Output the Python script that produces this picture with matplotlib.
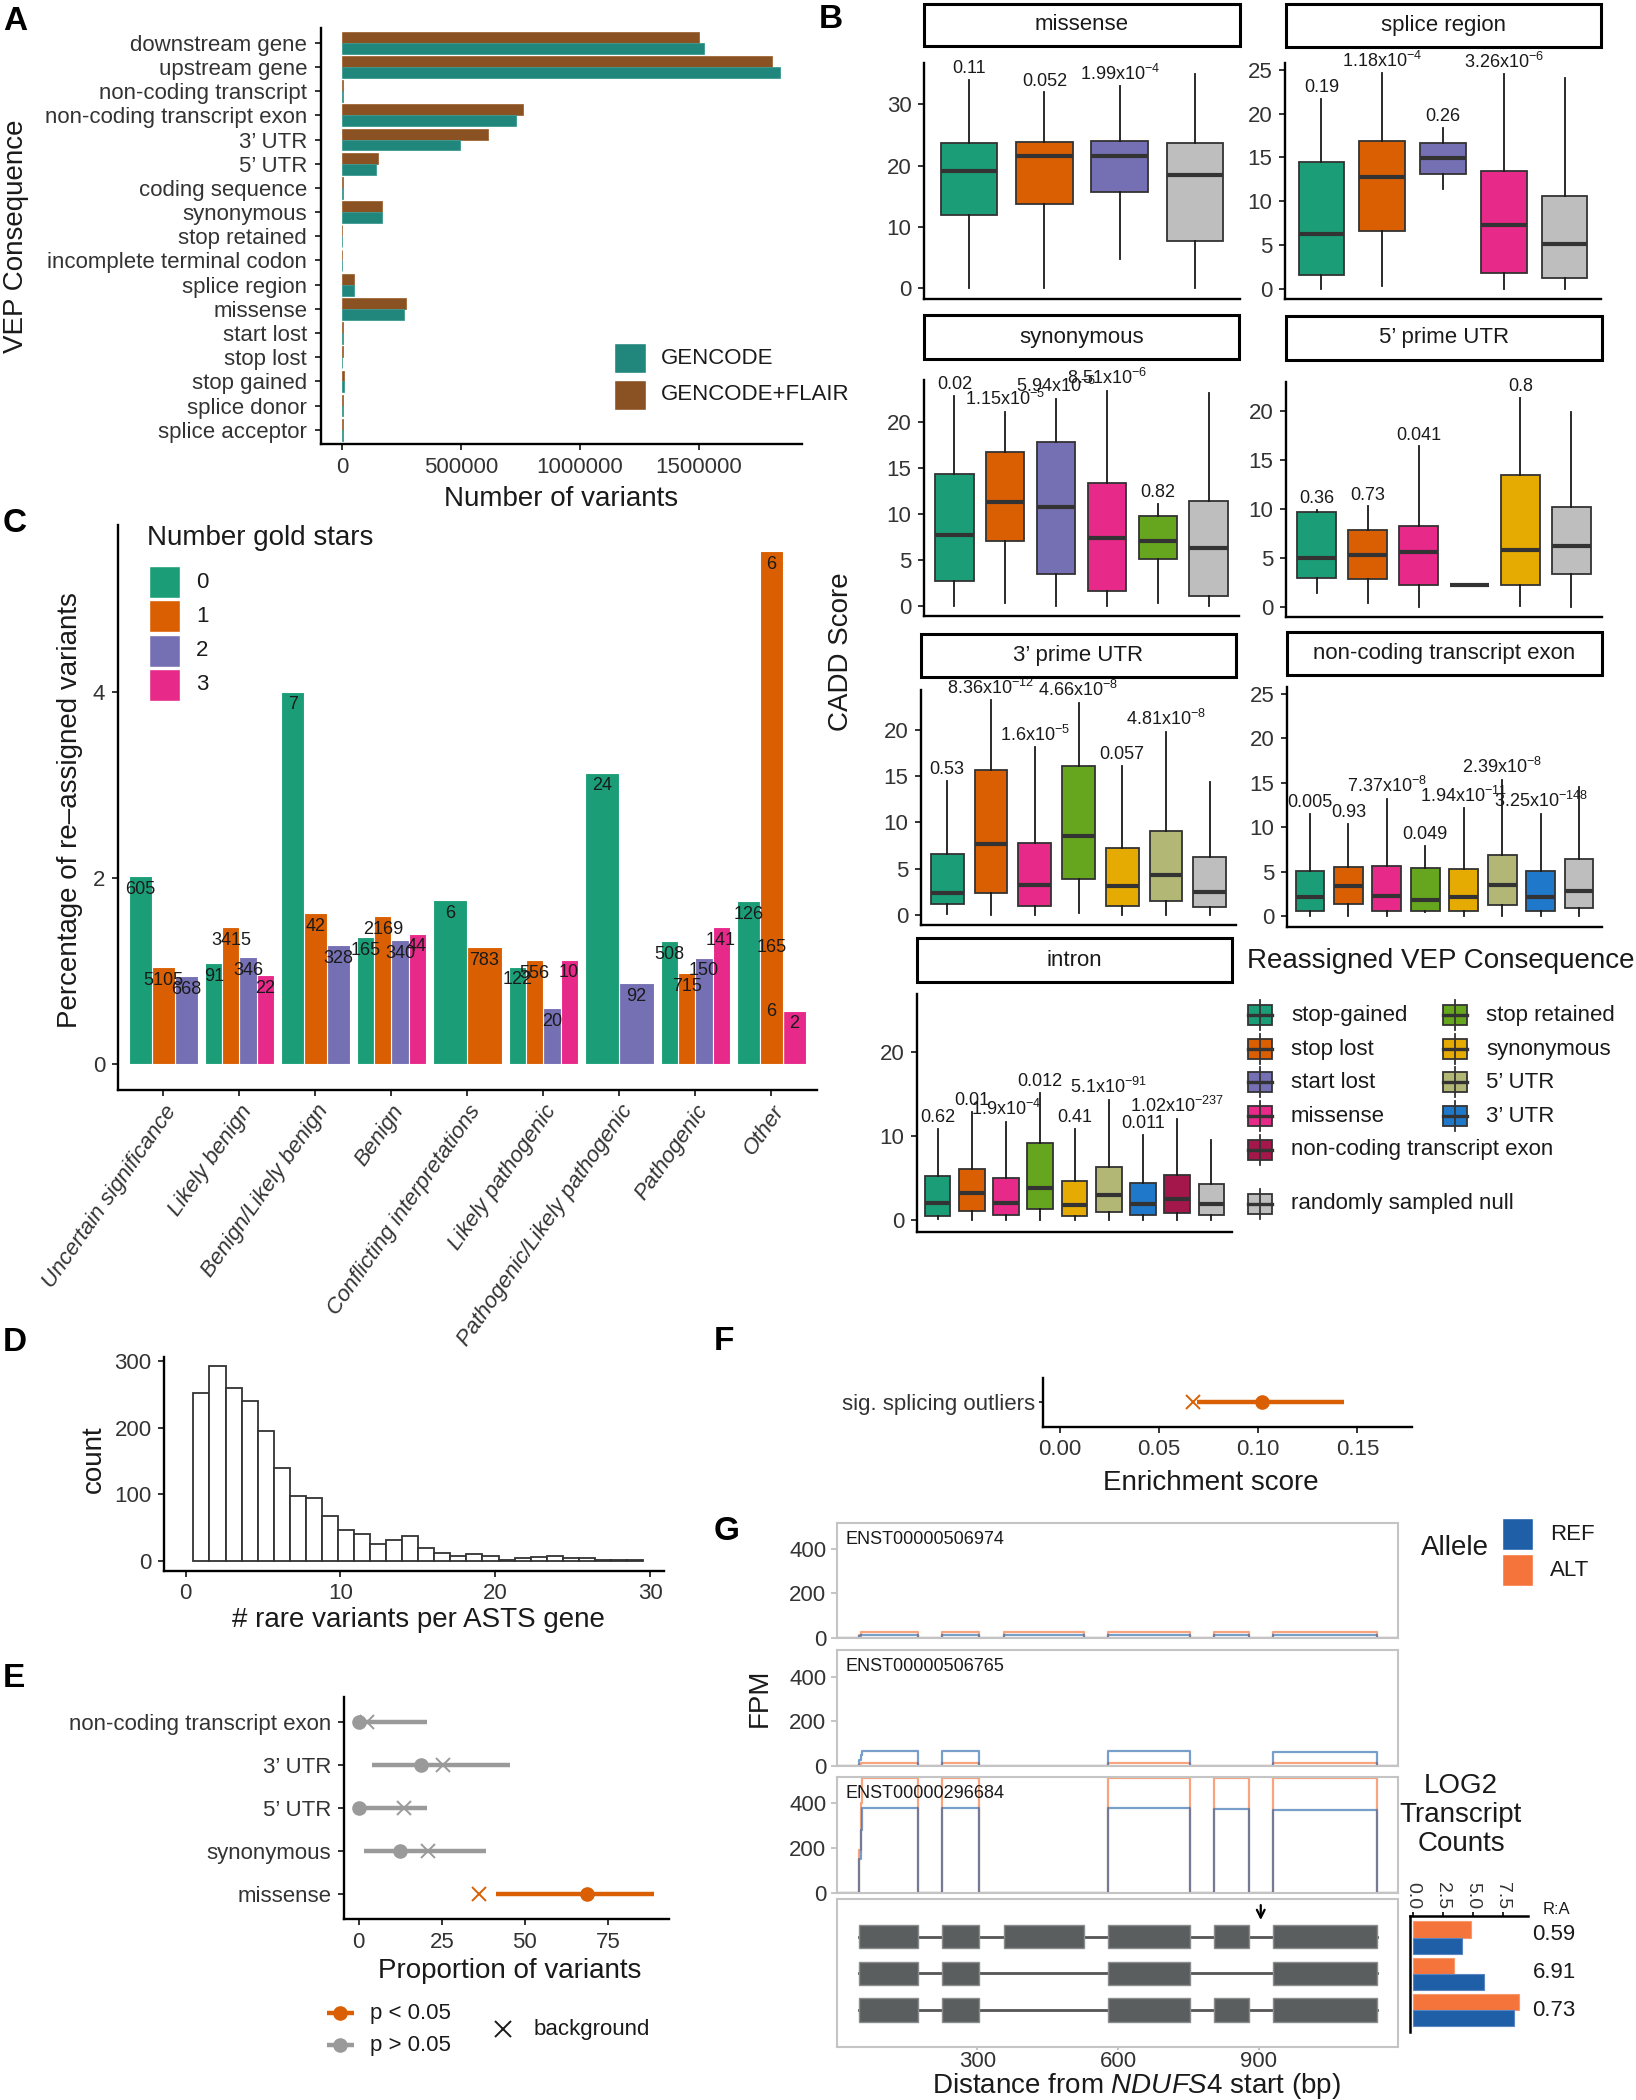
import numpy as np
import matplotlib
matplotlib.use('Agg')
import matplotlib.pyplot as plt
from matplotlib.patches import Rectangle

plt.rcParams['font.family'] = ['Liberation Sans', 'DejaVu Sans']
plt.rcParams['mathtext.fontset'] = 'custom'
plt.rcParams['mathtext.rm'] = 'Liberation Sans'
plt.rcParams['mathtext.it'] = 'Liberation Sans:italic'
plt.rcParams['mathtext.bf'] = 'Liberation Sans:bold'

# ======================= DATA =======================
# ---- Panel A ----
A_categories = ['downstream gene', 'upstream gene', 'non-coding transcript',
                'non-coding transcript exon', '3’ UTR', '5’ UTR', 'coding sequence',
                'synonymous', 'stop retained', 'incomplete terminal codon', 'splice region',
                'missense', 'start lost', 'stop lost', 'stop gained', 'splice donor',
                'splice acceptor']
A_gencode = [1523000, 1843000, 1500, 732000, 497000, 143000, 2000, 166000, 300, 100,
             51000, 258000, 1200, 800, 5500, 3500, 3000]
A_flair = [1500000, 1809000, 1800, 759000, 614000, 152000, 2200, 166000, 300, 100,
           48000, 267000, 1300, 900, 6500, 3800, 3200]
A_series = ['GENCODE', 'GENCODE+FLAIR']
A_ticks = [0, 500000, 1000000, 1500000]

# ---- Panel B (box stats: [whisker low, Q1, median, Q3, whisker high]) ----
B_legend_col1 = ['stop-gained', 'stop lost', 'start lost', 'missense', 'non-coding transcript exon']
B_legend_col2 = ['stop retained', 'synonymous', '5’ UTR', '3’ UTR']
B_null = 'randomly sampled null'

B_missense_cats = ['stop-gained', 'stop lost', 'start lost', 'null']
B_missense_stats = [[0.0, 11.9, 19.1, 23.6, 34.0], [0.0, 13.7, 21.5, 23.9, 31.9],
                    [4.7, 15.7, 21.6, 24.0, 32.9], [0.0, 7.7, 18.4, 23.7, 34.9]]
B_missense_p = ['0.11', '0.052', r'1.99x10$^{-4}$', '']

B_splice_cats = ['stop-gained', 'stop lost', 'start lost', 'missense', 'null']
B_splice_stats = [[0.0, 1.53, 6.3, 14.5, 21.7], [0.3, 6.6, 12.8, 16.9, 24.6],
                  [11.4, 13.1, 14.9, 16.6, 18.4], [0.0, 1.76, 7.3, 13.5, 24.5],
                  [0.0, 1.26, 5.1, 10.6, 24.1]]
B_splice_p = ['0.19', r'1.18x10$^{-4}$', '0.26', r'3.26x10$^{-6}$', '']

B_syn_cats = ['stop-gained', 'stop lost', 'start lost', 'missense', 'stop retained', 'null']
B_syn_stats = [[0.0, 2.7, 7.65, 14.3, 22.8], [0.36, 7.1, 11.26, 16.65, 21.05],
               [0.0, 3.43, 10.7, 17.76, 22.45], [0.0, 1.66, 7.36, 13.3, 23.3],
               [0.36, 5.1, 7.1, 9.8, 11.05], [0.0, 1.08, 6.25, 11.37, 23.1]]
B_syn_p = ['0.02', r'1.15x10$^{-5}$', r'5.94x10$^{-6}$', r'8.51x10$^{-6}$', '0.82', '']

B_utr5_cats = ['stop-gained', 'stop lost', 'missense', 'stop retained', 'synonymous', 'null']
B_utr5_stats = [[1.43, 3.0, 5.03, 9.66, 9.93], [0.41, 2.89, 5.34, 7.86, 10.27],
                [0.0, 2.28, 5.58, 8.23, 16.4], [2.2, 2.2, 2.2, 2.2, 2.2],
                [0.14, 2.21, 5.85, 13.47, 21.3], [0.0, 3.33, 6.26, 10.2, 19.86]]
B_utr5_p = ['0.36', '0.73', '0.041', '', '0.8', '']

B_utr3_cats = ['stop-gained', 'stop lost', 'missense', 'stop retained', 'synonymous', '5’ UTR', 'null']
B_utr3_stats = [[0.1, 1.19, 2.34, 6.63, 14.5], [0.0, 2.41, 7.68, 15.64, 23.17],
                [0.0, 0.97, 3.2, 7.82, 18.1], [0.18, 3.93, 8.54, 16.1, 22.9],
                [0.0, 1.0, 3.17, 7.24, 16.1], [0.0, 1.55, 4.32, 9.05, 19.75],
                [0.0, 0.9, 2.5, 6.3, 14.4]]
B_utr3_p = ['0.53', r'8.36x10$^{-12}$', r'1.6x10$^{-5}$', r'4.66x10$^{-8}$', '0.057',
            r'4.81x10$^{-8}$', '']

B_nce_cats = ['stop-gained', 'stop lost', 'missense', 'stop retained', 'synonymous', '5’ UTR',
              '3’ UTR', 'null']
B_nce_stats = [[0.0, 0.56, 2.16, 5.11, 11.5], [0.0, 1.42, 3.36, 5.56, 10.37],
               [0.0, 0.63, 2.31, 5.67, 13.17], [0.45, 0.63, 1.79, 5.41, 7.95],
               [0.0, 0.56, 2.16, 5.34, 12.13], [0.0, 1.23, 3.54, 6.87, 15.3],
               [0.0, 0.63, 2.13, 5.04, 11.5], [0.0, 0.93, 2.8, 6.42, 14.48]]
B_nce_p = ['0.005', '0.93', r'7.37x10$^{-8}$', '0.049', r'1.94x10$^{-11}$', r'2.39x10$^{-8}$',
           r'3.25x10$^{-148}$', '']

B_intron_cats = ['stop-gained', 'stop lost', 'missense', 'stop retained', 'synonymous', '5’ UTR',
                 '3’ UTR', 'non-coding transcript exon', 'null']
B_intron_stats = [[0.08, 0.48, 2.03, 5.2, 10.85], [0.0, 1.07, 3.22, 6.0, 12.84],
                  [0.0, 0.52, 2.03, 5.0, 11.65], [0.0, 1.23, 3.78, 9.1, 15.1],
                  [0.0, 0.44, 1.71, 4.65, 10.85], [0.0, 0.91, 2.9, 6.28, 14.3],
                  [0.0, 0.52, 1.91, 4.37, 10.06], [0.0, 0.8, 2.5, 5.29, 12.05],
                  [0.0, 0.6, 1.83, 4.21, 9.54]]
B_intron_p = ['0.62', '0.01', r'1.9x10$^{-4}$', '0.012', '0.41', r'5.1x10$^{-91}$', '0.011',
              r'1.02x10$^{-237}$', '']

# ---- Panel C ----
C_classes = ['Uncertain significance', 'Likely benign', 'Benign/Likely benign', 'Benign',
             'Conflicting interpretations', 'Likely pathogenic', 'Pathogenic/Likely pathogenic',
             'Pathogenic', 'Other']
C_group = [0, 0, 0, 1, 1, 1, 1, 2, 2, 2, 3, 3, 3, 3, 4, 4, 5, 5, 5, 5, 6, 6, 7, 7, 7, 7, 8, 8, 8, 8, 8]
C_stars = [0, 1, 2, 0, 1, 2, 3, 0, 1, 2, 0, 1, 2, 3, 0, 1, 0, 1, 2, 3, 0, 2, 0, 1, 2, 3, 0, 1, 1, 1, 3]
C_pct = [2.02, 1.04, 0.94, 1.085, 1.468, 1.146, 0.952, 4.0, 1.618, 1.278, 1.36, 1.59, 1.332, 1.40,
         1.758, 1.257, 1.045, 1.117, 0.598, 1.12, 3.13, 0.87, 1.318, 0.977, 1.142, 1.47,
         1.747, 5.51, 1.39, 0.71, 0.573]
C_count = ['605', '5105', '668', '91', '3415', '346', '22', '7', '42', '328', '165', '2169', '340',
           '44', '6', '783', '122', '556', '20', '10', '24', '92', '508', '715', '150', '141',
           '126', '6', '165', '6', '2']
C_star_levels = ['0', '1', '2', '3']

# ---- Panel D ----
D_counts = [252, 293, 260, 240, 196, 139, 98, 95, 67, 46, 40, 25, 31, 38, 19, 12, 7, 10, 7,
            2, 5, 6, 7, 4, 4, 2, 2, 1]

# ---- Panel E ----
E_cats = ['non-coding transcript exon', '3’ UTR', '5’ UTR', 'synonymous', 'missense']
E_est = [0.0, 18.6, 0.0, 12.5, 68.8]
E_lo = [0.0, 4.0, 0.0, 1.5, 41.4]
E_hi = [20.5, 45.5, 20.5, 38.2, 88.9]
E_bg = [2.6, 25.3, 13.75, 20.9, 36.3]
E_sig = [False, False, False, False, True]

# ---- Panel F ----
F_cats = ['sig. splicing outliers']
F_est = [0.102]
F_lo = [0.069]
F_hi = [0.143]
F_bg = [0.067]

# ---- Panel G ----
G_transcripts = ['ENST00000506974', 'ENST00000506765', 'ENST00000296684']
G_exon_starts = [[48, 225, 357, 579, 805, 930], [48, 225, 579, 930], [48, 225, 579, 805, 930]]
G_exon_ends = [[174, 304, 528, 753, 878, 1152], [174, 304, 753, 1152], [174, 304, 753, 878, 1152]]
G_ref_fpm = [[14, 14, 14, 14, 14, 14], [66, 66, 65, 63], [378, 378, 378, 375, 370]]
G_alt_fpm = [[25, 25, 25, 25, 25, 25], [10, 10, 10, 10], [514, 514, 514, 514, 511]]
G_ref_ramp = [[8], [25, 50], [150, 280]]
G_alt_ramp = [[12], [5], [190, 400]]
G_variant_bp = 904
G_log2_ref = [4.09, 5.94, 8.44]
G_log2_alt = [4.84, 3.44, 8.89]
G_ratio = ['0.59', '6.91', '0.73']

# ======================= STYLE =======================
W, H = 1636, 2100
TXT = '#1A1A1A'
TICK = '#333333'
GEN_C = '#21877C'
FLAIR_C = '#8A5223'
BCOL = {'stop-gained': '#1B9E77', 'stop lost': '#D95F02', 'start lost': '#7570B3',
        'missense': '#E7298A', 'non-coding transcript exon': '#A3174A',
        'stop retained': '#66A61E', 'synonymous': '#E6AB02', '5’ UTR': '#B3B775',
        '3’ UTR': '#1F78C9', 'null': '#BEBEBE', 'randomly sampled null': '#BEBEBE'}
STAR_C = ['#1B9E77', '#D95F02', '#7570B3', '#E7298A']
SIG_C = '#D95F02'
NS_C = '#9A9A9A'
REF_C = '#1F5FA8'
ALT_C = '#F4743B'

fig = plt.figure(figsize=(W / 100, H / 100), dpi=100)


def add_ax(x0, y0, x1, y1):
    return fig.add_axes([x0 / W, 1 - y1 / H, (x1 - x0) / W, (y1 - y0) / H])


def classic(ax, lw=1.7):
    for s in ['top', 'right']:
        ax.spines[s].set_visible(False)
    for s in ['left', 'bottom']:
        ax.spines[s].set_linewidth(lw)
        ax.spines[s].set_color('black')
    ax.tick_params(width=1.4, length=4, labelsize=16, labelcolor=TICK, color='#333333', pad=5)
    ax.patch.set_alpha(0)


# ======================= PANEL A =======================
axA = add_ax(321, 28.3, 802, 444.3)
yA = np.arange(len(A_categories))
axA.barh(yA - 0.225, A_flair, height=0.45, color=FLAIR_C, edgecolor='#A0683A', linewidth=0.6)
axA.barh(yA + 0.225, A_gencode, height=0.45, color=GEN_C, edgecolor='#3C9A90', linewidth=0.6)
axA.set_ylim(len(A_categories) - 0.4, -0.6)
axA.set_xlim(-89700, 1.935e6)
classic(axA)
axA.set_yticks(yA, A_categories)
axA.set_xticks(A_ticks, [str(t) for t in A_ticks])
axA.tick_params(axis='y', pad=6)
axA.set_xlabel('Number of variants', fontsize=20, color=TXT, labelpad=6)

# ======================= PANEL B =======================
def box_panel(rect, cats, stats, plabels, ylim, yticks):
    ax = add_ax(*rect)
    pos = np.arange(1, len(cats) + 1)
    bst = [dict(whislo=s[0], q1=s[1], med=s[2], q3=s[3], whishi=s[4], fliers=[]) for s in stats]
    bp = ax.bxp(bst, positions=pos, widths=0.75, patch_artist=True, showcaps=False,
                showfliers=False,
                boxprops=dict(linewidth=1.3, edgecolor='#333333'),
                medianprops=dict(linewidth=3.0, color='#333333', solid_capstyle='butt'),
                whiskerprops=dict(linewidth=1.3, color='#1A1A1A'))
    for patch, c in zip(bp['boxes'], cats):
        patch.set_facecolor(BCOL[c])
    for p, s, lab in zip(pos, stats, plabels):
        if lab:
            ax.annotate(lab, (p, s[4]), xytext=(0, 2), textcoords='offset points',
                        ha='center', va='bottom', fontsize=13, color=TXT)
    ax.set_xlim(0.4, len(cats) + 0.6)
    ax.set_ylim(*ylim)
    classic(ax)
    ax.set_xticks([])
    ax.set_yticks(yticks, [str(t) for t in yticks])
    return ax


B_specs = [
    ('missense', (924, 63, 1240, 299), (924, 4, 1240, 46), B_missense_cats, B_missense_stats,
     B_missense_p, (-1.74, 36.7), [0, 10, 20, 30]),
    ('splice region', (1285, 63, 1601, 299), (1286, 4, 1601, 47), B_splice_cats, B_splice_stats,
     B_splice_p, (-1.19, 25.8), [0, 5, 10, 15, 20, 25]),
    ('synonymous', (924, 380, 1239, 616), (924, 315, 1239, 359), B_syn_cats, B_syn_stats,
     B_syn_p, (-1.08, 24.5), [0, 5, 10, 15, 20]),
    ('5’ prime UTR', (1286, 382, 1602, 617), (1286, 316, 1602, 360), B_utr5_cats, B_utr5_stats,
     B_utr5_p, (-1.02, 22.96), [0, 5, 10, 15, 20]),
    ('3’ prime UTR', (921, 690, 1236, 925), (921, 634, 1236, 677), B_utr3_cats, B_utr3_stats,
     B_utr3_p, (-1.08, 24.3), [0, 5, 10, 15, 20]),
    ('non-coding transcript exon', (1287, 687, 1602, 927), (1287, 632, 1602, 675), B_nce_cats,
     B_nce_stats, B_nce_p, (-1.19, 25.75), [0, 5, 10, 15, 20, 25]),
    ('intron', (917, 994, 1232, 1232), (917, 938, 1232, 982), B_intron_cats, B_intron_stats,
     B_intron_p, (-1.47, 26.9), [0, 10, 20]),
]
for title, rect, strip, cats, stats, pl, yl, yt in B_specs:
    box_panel(rect, cats, stats, pl, yl, yt)

# ======================= PANEL C =======================
axC = add_ax(117.8, 525, 817, 1090)
present = {}
for g, s in zip(C_group, C_stars):
    present.setdefault(g, [])
    if s not in present[g]:
        present[g].append(s)
xs = []
for g, s in zip(C_group, C_stars):
    lv = sorted(present[g])
    w = 0.9 / len(lv)
    xs.append((g - 0.45 + (lv.index(s) + 0.5) * w, w))
order = np.argsort(C_pct)
for i in order:
    x, w = xs[i]
    axC.bar(x, C_pct[i], width=w, color=STAR_C[C_stars[i]], edgecolor='white', linewidth=0.8,
            zorder=2)
for i in range(len(C_pct)):
    x, w = xs[i]
    axC.annotate(C_count[i], (x, C_pct[i]), xytext=(0, -9.5), textcoords='offset points',
                 ha='center', va='center', fontsize=13, color=TXT, zorder=5)
axC.set_xlim(-0.6, 8.6)
axC.set_ylim(-0.28, 5.79)
classic(axC)
axC.set_yticks([0, 2, 4], ['0', '2', '4'])
axC.set_xticks(range(len(C_classes)))
axC.set_xticklabels(C_classes, rotation=55, ha='right', va='top', rotation_mode='anchor',
                    fontstyle='italic', fontsize=16)
axC.tick_params(axis='x', pad=4)

# ======================= PANEL D =======================
axD = add_ax(164, 1356.7, 664, 1570.7)
D_edges = np.linspace(0.5, 29.55, len(D_counts) + 1)
axD.bar(D_edges[:-1], D_counts, width=np.diff(D_edges), align='edge', color='white',
        edgecolor='#333333', linewidth=1.3)
axD.set_xlim(-1.4, 30.9)
axD.set_ylim(-14.6, 307)
classic(axD)
axD.set_xticks([0, 10, 20, 30], ['0', '10', '20', '30'])
axD.set_yticks([0, 100, 200, 300], ['0', '100', '200', '300'])

# ======================= PANEL E =======================
axE = add_ax(343.8, 1696.7, 669, 1919.3)
for i in range(len(E_cats)):
    c = SIG_C if E_sig[i] else NS_C
    axE.plot([E_lo[i], E_hi[i]], [i, i], color=c, lw=3.2, solid_capstyle='butt', zorder=2)
    axE.plot(E_est[i], i, 'o', color=c, ms=9.5, zorder=3)
    axE.plot(E_bg[i], i, 'x', color=c, ms=10, mew=1.4, zorder=3)
axE.set_xlim(-4.5, 93.4)
axE.set_ylim(len(E_cats) - 0.4, -0.6)
classic(axE)
axE.set_yticks(range(len(E_cats)), E_cats)
axE.set_xticks([0, 25, 50, 75], ['0', '25', '50', '75'])

# ======================= PANEL F =======================
axF = add_ax(1043, 1378, 1411.5, 1426.7)
for i in range(len(F_cats)):
    axF.plot([F_lo[i], F_hi[i]], [i, i], color=SIG_C, lw=3.2, solid_capstyle='butt', zorder=2)
    axF.plot(F_est[i], i, 'o', color=SIG_C, ms=9.5, zorder=3)
    axF.plot(F_bg[i], i, 'x', color=SIG_C, ms=10, mew=1.4, zorder=3)
axF.set_xlim(-0.0086, 0.1773)
axF.set_ylim(-0.6, 0.6)
classic(axF)
axF.set_yticks(range(len(F_cats)), F_cats)
axF.set_xticks([0, 0.05, 0.10, 0.15], ['0.00', '0.05', '0.10', '0.15'])
axF.tick_params(axis='y', length=3, pad=3)

# ======================= PANEL G =======================
track_rects = [(836.8, 1522.7, 1397.7, 1637.7), (836.8, 1650, 1397.7, 1765.7),
               (836.8, 1776.7, 1397.7, 1892.7)]
GX = (0, 1196)


def coverage_xy(starts, ends, levels, ramp):
    xs_, ys_ = [0], [0]
    for k, (s, e, lv) in enumerate(zip(starts, ends, levels)):
        xs_ += [s]
        ys_ += [0]
        if k == 0:
            for j, r in enumerate(ramp):
                xs_ += [s + 3 * j, s + 3 * (j + 1)]
                ys_ += [r, r]
            xs_ += [s + 3 * len(ramp)]
            ys_ += [lv]
        else:
            xs_ += [s]
            ys_ += [lv]
        xs_ += [e, e]
        ys_ += [lv, 0]
    xs_ += [GX[1]]
    ys_ += [0]
    return xs_, ys_


for t, rect in enumerate(track_rects):
    ax = add_ax(*rect)
    xr, yr = coverage_xy(G_exon_starts[t], G_exon_ends[t], G_ref_fpm[t], G_ref_ramp[t])
    xa, ya = coverage_xy(G_exon_starts[t], G_exon_ends[t], G_alt_fpm[t], G_alt_ramp[t])
    ax.plot(xa, ya, color=ALT_C, lw=1.6, alpha=0.65, clip_on=True)
    ax.plot(xr, yr, color=REF_C, lw=1.6, alpha=0.6, clip_on=True)
    ax.set_xlim(*GX)
    ax.set_ylim(0, 519)
    for s in ax.spines.values():
        s.set_color('#C4C4C4')
        s.set_linewidth(1.5)
    ax.set_xticks([])
    ax.set_yticks([0, 200, 400], ['0', '200', '400'])
    ax.tick_params(axis='y', labelsize=16, labelcolor=TICK, color='#BBBBBB', length=4, width=1.2)
    ax.text(0.015, 1 - 16.5 / 115, G_transcripts[t], transform=ax.transAxes, ha='left',
            va='center', fontsize=13, color=TXT)

axGM = add_ax(836.8, 1899, 1397.7, 2046.7)
for t in range(len(G_transcripts)):
    row = t + 1
    axGM.plot([G_exon_starts[t][0], G_exon_ends[t][-1]], [row, row], color='#555555', lw=2,
              zorder=1)
    for s, e in zip(G_exon_starts[t], G_exon_ends[t]):
        axGM.add_patch(Rectangle((s, row - 0.32), e - s, 0.64, facecolor='#5A5E5F',
                                 edgecolor='#8A8D8E', linewidth=1.0, zorder=2))
axGM.annotate('', xy=(G_variant_bp, 0.62), xytext=(G_variant_bp, 0.06),
              arrowprops=dict(arrowstyle='->', color='black', lw=1.6, mutation_scale=14))
axGM.set_xlim(*GX)
axGM.set_ylim(4.0, -0.03)
for s in axGM.spines.values():
    s.set_color('#C4C4C4')
    s.set_linewidth(1.5)
axGM.set_yticks([])
axGM.set_xticks([300, 600, 900], ['300', '600', '900'])
axGM.tick_params(axis='x', labelsize=16, labelcolor=TICK, color='#BBBBBB', length=2, width=1.2,
                 pad=1)

axL = add_ax(1409.7, 1916, 1528, 2031.7)
rowsL = np.arange(1, len(G_log2_ref) + 1)
axL.barh(rowsL - 0.225, G_log2_alt, height=0.45, color=ALT_C, edgecolor='#F69A6E', linewidth=0.8)
axL.barh(rowsL + 0.225, G_log2_ref, height=0.45, color=REF_C, edgecolor='#5A86C0', linewidth=0.8)
axL.set_ylim(3.6, 0.4)
axL.set_xlim(-0.25, 9.6)
for s in ['bottom', 'right']:
    axL.spines[s].set_visible(False)
axL.spines['left'].set_linewidth(1.8)
axL.spines['top'].set_linewidth(1.8)
axL.xaxis.tick_top()
axL.set_xticks([0, 2.5, 5.0, 7.5], ['0.0', '2.5', '5.0', '7.5'])
axL.tick_params(axis='x', labelsize=14, labelcolor=TICK, rotation=-90, length=3, width=1.2, pad=2)
axL.set_yticks([])
axL.patch.set_alpha(0)

# ======================= OVERLAY (legends, labels) =======================
ov = fig.add_axes([0, 0, 1, 1])
ov.set_xlim(0, W)
ov.set_ylim(H, 0)
ov.axis('off')
ov.patch.set_visible(False)


def otext(x, y, s, **kw):
    kw.setdefault('color', TXT)
    ov.text(x, y, s, **kw)


for letter, (x, y) in zip('ABCDEFG', [(3, 6), (819, 4), (3, 508), (3, 1327), (3, 1663),
                                       (714, 1326), (714, 1516)]):
    otext(x, y, letter, fontsize=24, fontweight='bold', ha='left', va='top', color='black')

# A
otext(16, 236, 'VEP Consequence', fontsize=20, rotation=90, ha='center', va='center')
for k, (lab, col, y0) in enumerate(zip(A_series, [GEN_C, FLAIR_C], [343, 380])):
    ov.add_patch(Rectangle((614, y0), 32, 30, facecolor=col, edgecolor='white', lw=1))
    otext(661, y0 + 15, lab, fontsize=16, ha='left', va='center')

# B strips
for title, rect, strip, *_ in B_specs:
    x0, y0, x1, y1 = strip
    ov.add_patch(Rectangle((x0, y0), x1 - x0, y1 - y0, facecolor='white', edgecolor='black', lw=2.2))
    otext((x0 + x1) / 2, (y0 + y1) / 2, title, fontsize=16, ha='center', va='center')
otext(841, 652, 'CADD Score', fontsize=20, rotation=90, ha='center', va='center')

# B legend
otext(1247, 961, 'Reassigned VEP Consequence', fontsize=20, ha='left', va='center')


def box_icon(xc, yc, col):
    ov.plot([xc, xc], [yc - 15, yc + 15], color='#333333', lw=1.3)
    ov.add_patch(Rectangle((xc - 12, yc - 10), 24, 20, facecolor=col, edgecolor='#333333', lw=1.3))
    ov.plot([xc - 12, xc + 12], [yc, yc], color='#333333', lw=2.4)


rows_y = [1015, 1049, 1082, 1116, 1150]
for lab, yy in zip(B_legend_col1, rows_y):
    box_icon(1260, yy, BCOL[lab])
    otext(1291, yy, lab, fontsize=16, ha='left', va='center')
for lab, yy in zip(B_legend_col2, rows_y):
    box_icon(1455, yy, BCOL[lab])
    otext(1486, yy, lab, fontsize=16, ha='left', va='center')
box_icon(1260, 1204, BCOL[B_null])
otext(1291, 1204, B_null, fontsize=16, ha='left', va='center')

# C legend
otext(70, 810, 'Percentage of re–assigned variants', fontsize=20, rotation=90, ha='center',
      va='center')
otext(147, 538, 'Number gold stars', fontsize=20, ha='left', va='center')
for k, lab in enumerate(C_star_levels):
    y0 = 566 + k * 34.3
    ov.add_patch(Rectangle((149, y0), 31, 32, facecolor=STAR_C[k], edgecolor='white', lw=1))
    otext(196, y0 + 16, lab, fontsize=16, ha='left', va='center')

# D labels
otext(94, 1459, 'count', fontsize=20, rotation=90, ha='center', va='center')
otext(418, 1620, '# rare variants per ASTS gene', fontsize=20, ha='center', va='center')

# E labels / legend
otext(510, 1971, 'Proportion of variants', fontsize=20, ha='center', va='center')
for lab, col, yy in [('p < 0.05', SIG_C, 2013), ('p > 0.05', NS_C, 2045)]:
    ov.plot([327, 354], [yy, yy], color=col, lw=3.2, solid_capstyle='butt')
    ov.plot([340], [yy], 'o', color=col, ms=9.5)
    otext(370, yy, lab, fontsize=16, ha='left', va='center')
ov.plot([503], [2029], 'x', color='#1A1A1A', ms=11, mew=1.4)
otext(534, 2029, 'background', fontsize=16, ha='left', va='center')

# F labels
otext(1211, 1483, 'Enrichment score', fontsize=20, ha='center', va='center')

# G labels / legends
otext(760, 1698, 'FPM', fontsize=20, rotation=90, ha='center', va='center')
otext(1137, 2086, r'Distance from $\it{NDUFS4}$ start (bp)', fontsize=20, ha='center',
      va='center')
otext(1455, 1548, 'Allele', fontsize=20, ha='center', va='center')
ov.add_patch(Rectangle((1502, 1518), 31, 32, facecolor=REF_C, edgecolor='white', lw=1))
ov.add_patch(Rectangle((1502, 1554), 31, 32, facecolor=ALT_C, edgecolor='white', lw=1))
otext(1550, 1535, 'REF', fontsize=16, ha='left', va='center')
otext(1550, 1570, 'ALT', fontsize=16, ha='left', va='center')
otext(1461, 1815, 'LOG2\nTranscript\nCounts', fontsize=20, ha='center', va='center',
      linespacing=1.15)
otext(1556, 1909, 'R:A', fontsize=12, ha='center', va='center')
for lab, yy in zip(G_ratio, [1934, 1972, 2010]):
    otext(1554, yy, lab, fontsize=16, ha='center', va='center')

fig.savefig('out.png', dpi=100)
